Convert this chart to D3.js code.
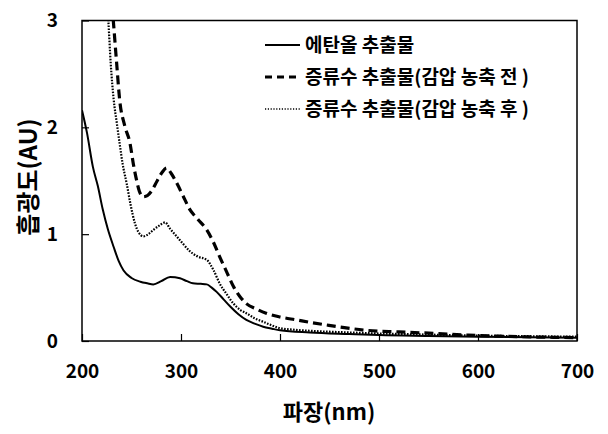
<!DOCTYPE html>
<html><head><meta charset="utf-8">
<script src="https://cdn.jsdelivr.net/npm/d3@7"></script>
<style>body{margin:0;background:#fff}svg{display:block}</style>
</head><body>
<svg id="c" width="608" height="434"></svg>
<script>
const xTicks = [200, 300, 400, 500, 600, 700];
const yTicks = [0, 1, 2, 3];
const seriesNames = ["에탄올 추출물", "증류수 추출물(감압 농축 전 )", "증류수 추출물(감압 농축 후 )"];
const ethanol = [[200,2.16],[205,1.95],[211,1.63],[216,1.45],[221,1.23],[226,1.05],[232,0.88],[237,0.75],[242,0.66],[250,0.59],[259,0.555],[266,0.54],[272,0.53],[280,0.56],[289,0.60],[299,0.587],[306,0.56],[312,0.54],[320,0.535],[326,0.53],[331,0.50],[336,0.46],[343,0.39],[350,0.32],[358,0.25],[366,0.197],[375,0.16],[383,0.134],[392,0.115],[400,0.10],[430,0.08],[470,0.065],[500,0.055],[550,0.047],[600,0.04],[650,0.035],[700,0.03]];
const distBefore = [[228,3.4],[231.6,3.0],[235,2.6],[238,2.26],[243,2.02],[248.5,1.85],[252,1.65],[255,1.51],[258,1.40],[262,1.35],[266,1.36],[270,1.40],[276,1.50],[281,1.58],[285.5,1.62],[290,1.57],[295.6,1.48],[302,1.36],[309,1.23],[317,1.14],[326,1.04],[333,0.92],[339,0.79],[346,0.65],[353,0.51],[360,0.41],[366,0.35],[376,0.30],[386,0.26],[400,0.225],[417,0.197],[430,0.175],[447,0.15],[465,0.125],[487,0.10],[520,0.085],[555,0.072],[590,0.055],[622,0.045],[660,0.037],[700,0.032]];
const distAfter = [[224,3.4],[226.6,3.0],[229,2.6],[232,2.26],[235,2.05],[238,1.85],[241,1.66],[245,1.48],[249,1.28],[253.5,1.10],[257,1.02],[262,0.98],[267,1.00],[272,1.04],[278,1.08],[284,1.11],[289,1.05],[295.6,0.98],[302,0.91],[309,0.84],[317,0.79],[326,0.76],[333,0.66],[339,0.54],[346,0.44],[353,0.35],[360,0.29],[366,0.26],[375,0.21],[383,0.18],[392,0.145],[400,0.12],[415,0.105],[433,0.094],[470,0.08],[500,0.07],[550,0.06],[600,0.05],[650,0.045],[700,0.04]];

const svg = d3.select("#c");
const L = 82, R = 577, T = 20.5, B = 341;
const x = d3.scaleLinear().domain([200, 700]).range([L, R]);
const y = d3.scaleLinear().domain([0, 3]).range([B, T]);
const font = "'Noto Sans CJK KR','Noto Sans',sans-serif";

svg.append("defs").append("clipPath").attr("id","clip")
  .append("rect").attr("x", L).attr("y", T).attr("width", R - L).attr("height", B - T);

const line = d3.line().x(d => x(d[0])).y(d => y(d[1])).curve(d3.curveMonotoneX);
const g = svg.append("g").attr("clip-path", "url(#clip)");
const styles = [
  {w: 2, dash: null},
  {w: 3.2, dash: "9,5"},
  {w: 2.2, dash: "1.6,1.4"}
];
[ethanol, distBefore, distAfter].forEach((s, i) => {
  g.append("path").datum(s).attr("d", line).attr("fill", "none")
    .attr("stroke", "#000").attr("stroke-width", styles[i].w)
    .attr("stroke-dasharray", styles[i].dash);
});

// axes with inward ticks
const xAxis = svg.append("g").attr("transform", `translate(0,${B})`)
  .call(d3.axisBottom(x).tickValues(xTicks).tickSize(-7).tickPadding(24).tickFormat(d3.format("d")));
const yAxis = svg.append("g").attr("transform", `translate(${L},0)`)
  .call(d3.axisLeft(y).tickValues(yTicks).tickSize(-7).tickPadding(24).tickFormat(d3.format("d")));
[xAxis, yAxis].forEach(a => {
  a.select(".domain").remove();
  a.selectAll("line").attr("stroke", "#000").attr("stroke-width", 1.2);
  a.selectAll("text").attr("font-family", font).attr("font-weight", "bold")
    .attr("font-size", 19).attr("fill", "#000");
});
// frame
svg.append("rect").attr("x", L).attr("y", T).attr("width", R - L).attr("height", B - T)
  .attr("fill", "none").attr("stroke", "#000").attr("stroke-width", 1.5);

// axis titles
svg.append("text").attr("x", 329).attr("y", 420).attr("text-anchor", "middle")
  .attr("font-family", font).attr("font-weight", "bold").attr("font-size", 22).text("파장(nm)");
svg.append("text").attr("transform", "translate(37,177) rotate(-90)").attr("text-anchor", "middle")
  .attr("font-family", font).attr("font-weight", "bold").attr("font-size", 24).text("흡광도(AU)");

// legend
const legY = [45, 77, 109];
seriesNames.forEach((n, i) => {
  svg.append("line").attr("x1", 265).attr("x2", 300).attr("y1", legY[i]).attr("y2", legY[i])
    .attr("stroke", "#000").attr("stroke-width", i === 2 ? 1.5 : styles[i].w)
    .attr("stroke-dasharray", i === 1 ? "7,5" : (i === 2 ? "1.2,1.6" : null));
  svg.append("text").attr("x", 305).attr("y", legY[i]).attr("dy", "0.35em")
    .attr("font-family", font).attr("font-weight", "bold").attr("font-size", 19).text(n);
});
</script>
</body></html>
